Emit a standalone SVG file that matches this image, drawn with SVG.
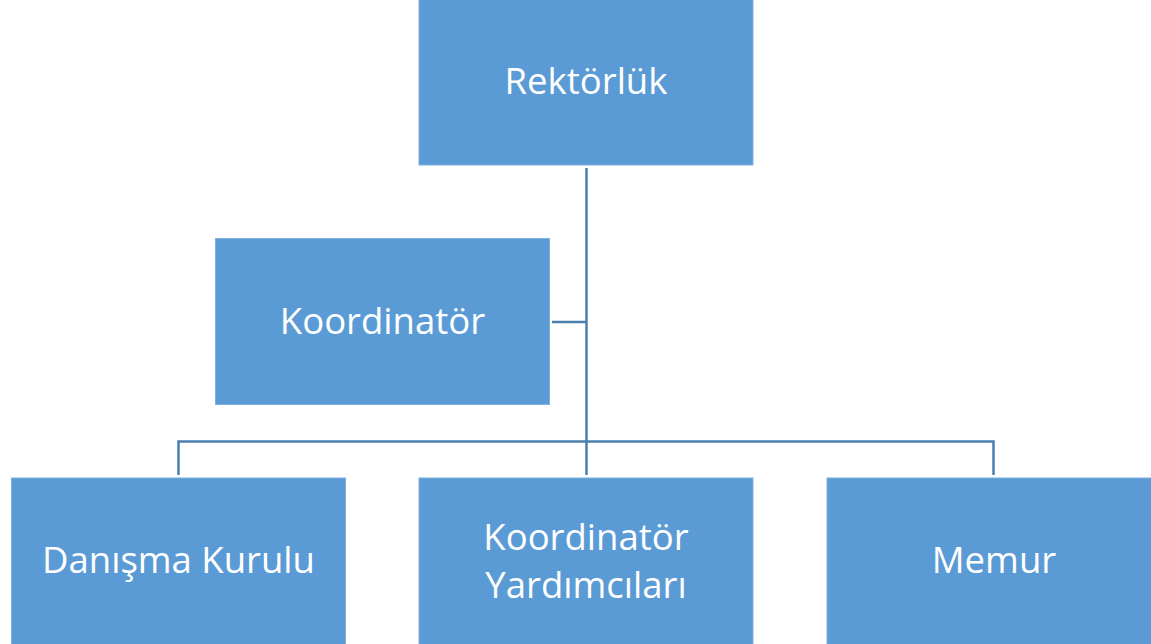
<svg xmlns="http://www.w3.org/2000/svg" width="1151" height="644" viewBox="0 0 1151 644">
<style>
.box{fill:#5B9BD5;stroke:#7FB0E0;stroke-width:1}
.t{font-family:"Open Sans","Liberation Sans",sans-serif;font-size:36.5px;fill:#FFFFFF;text-anchor:middle;dominant-baseline:central}
.c{fill:none;stroke:#4A7FB0;stroke-width:2.5}
</style>
<rect width="1151" height="644" fill="#FFFFFF"/>
<g id="connectors">
<path class="c" d="M586.5 168 V443"/>
<path class="c" d="M552 322 H586.5"/>
<path class="c" d="M178.5 475 V441.5 H993.5 V475"/>
<path class="c" d="M586.5 441.5 V475"/>
</g>
<g id="rektorluk"><rect class="box" x="419" y="-1" width="334" height="166"/><text class="t" x="586" y="80">Rektörlük</text></g>
<g id="koordinator"><rect class="box" x="215.5" y="238.5" width="334" height="166"/><text class="t" x="382.5" y="320">Koordinatör</text></g>
<g id="danisma"><rect class="box" x="11.5" y="478" width="334" height="167"/><text class="t" x="178.5" y="559">Danışma Kurulu</text></g>
<g id="yardimcilari"><rect class="box" x="419" y="478" width="334" height="167"/><text class="t" x="586" y="536">Koordinatör</text><text class="t" x="586" y="584">Yardımcıları</text></g>
<g id="memur"><rect class="box" x="827" y="478" width="334" height="167"/><text class="t" x="994" y="559">Memur</text></g>
</svg>
